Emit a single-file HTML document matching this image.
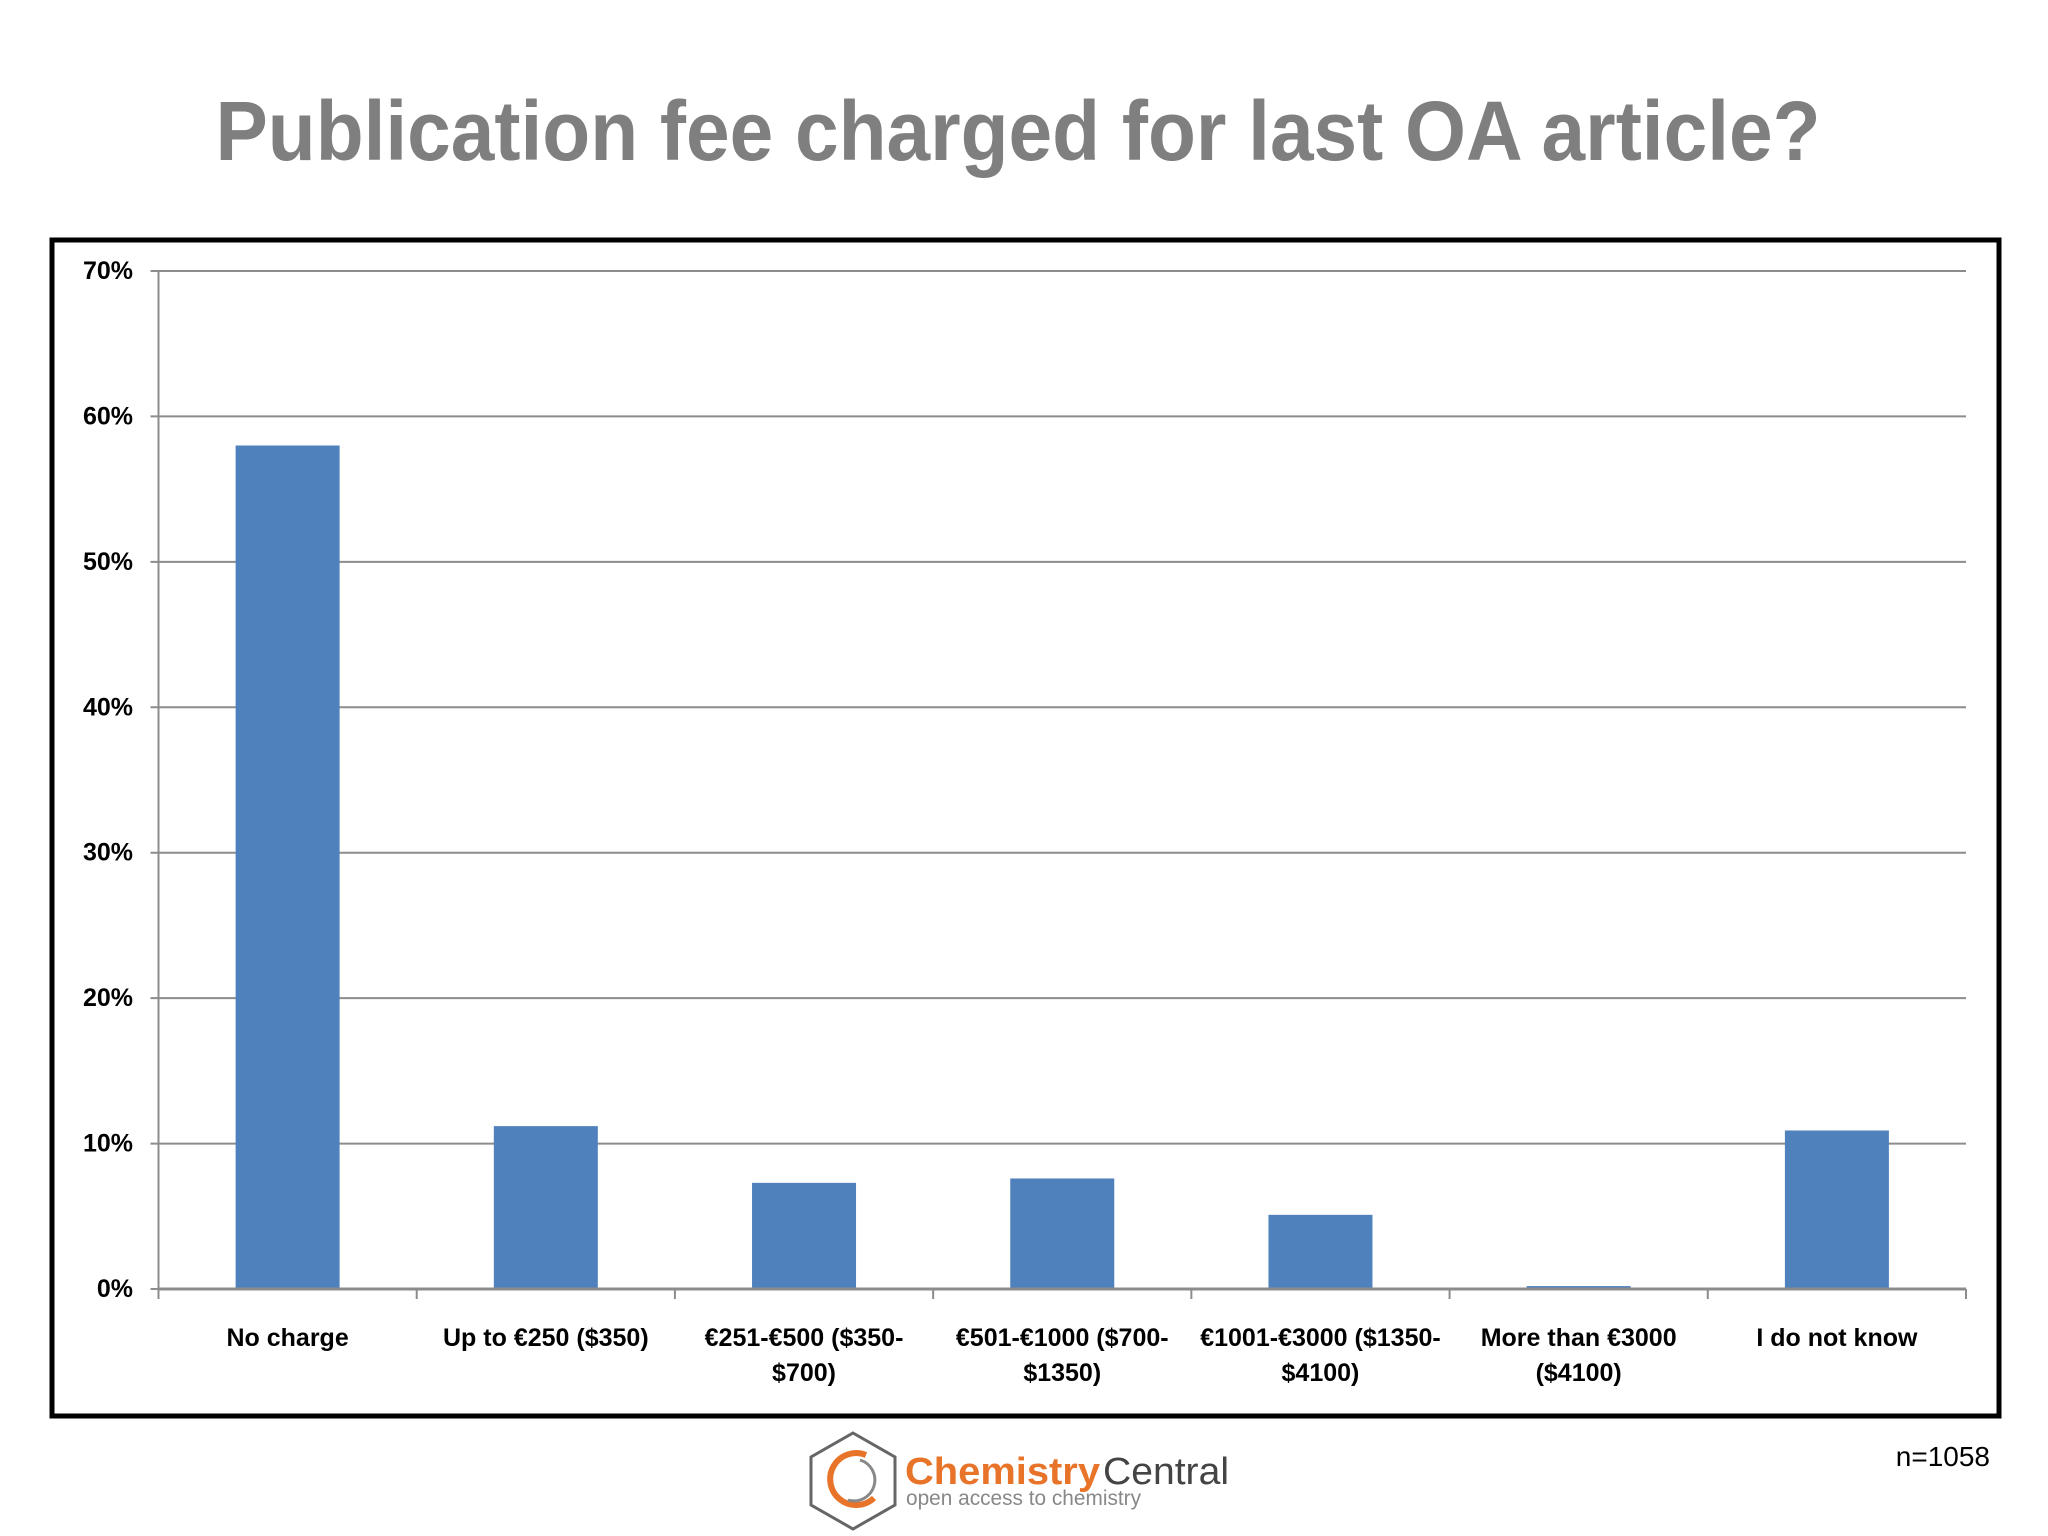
<!DOCTYPE html>
<html><head><meta charset="utf-8"><style>
html,body{margin:0;padding:0;background:#fff;width:2048px;height:1536px;overflow:hidden}
text{font-family:"Liberation Sans",sans-serif}
</style></head><body>
<svg id="chart" width="2048" height="1536" viewBox="0 0 2048 1536">
<text x="1018" y="160" text-anchor="middle" font-size="84" font-weight="bold" fill="#7f7f7f" textLength="1605" lengthAdjust="spacingAndGlyphs">Publication fee charged for last OA article?</text>
<rect x="52" y="240" width="1947" height="1176" fill="none" stroke="#000" stroke-width="5"/>
<g id="grid"></g><g id="bars"></g><g id="axes"></g>
<text x="1990" y="1466" text-anchor="end" font-size="28" fill="#000">n=1058</text>
<g>
<polygon points="853,1433 895,1457 895,1505 853,1529 811,1505 811,1457" fill="none" stroke="#666" stroke-width="3"/>
<path d="M866,1455 A26,26 0 1 0 874,1498" fill="none" stroke="#e8742a" stroke-width="6"/>
<path d="M860,1460 A20,20 0 1 1 848,1500" fill="none" stroke="#888" stroke-width="3"/>
<text x="905" y="1484" font-size="38" font-weight="bold" fill="#e8742a" textLength="195" lengthAdjust="spacingAndGlyphs">Chemistry</text>
<text x="1103" y="1484" font-size="38" fill="#444" textLength="126" lengthAdjust="spacingAndGlyphs">Central</text>
<text x="906" y="1505" font-size="21" fill="#888" textLength="235" lengthAdjust="spacingAndGlyphs">open access to chemistry</text>
</g>
</svg>
<script>
const categories=[["No charge"],["Up to €250 ($350)"],["€251-€500 ($350-","$700)"],["€501-€1000 ($700-","$1350)"],["€1001-€3000 ($1350-","$4100)"],["More than €3000","($4100)"],["I do not know"]];
const values=[58.0,11.2,7.3,7.6,5.1,0.2,10.9];
const yTicks=[0,10,20,30,40,50,60,70];
const NS="http://www.w3.org/2000/svg";
const x0=158.5,x1=1966,yTop=271,yBot=1289,yMax=70;
const y=v=>yBot-(v/yMax)*(yBot-yTop);
const bw=(x1-x0)/categories.length;
function mk(t,a,p){const e=document.createElementNS(NS,t);for(const k in a)e.setAttribute(k,a[k]);p.appendChild(e);return e;}
const grid=document.getElementById('grid'),bars=document.getElementById('bars'),axes=document.getElementById('axes');
yTicks.forEach(t=>{
 const l=mk('line',{x1:x0-8,x2:x1,y1:y(t),y2:y(t),stroke:'#8c8c8c','stroke-width':2},grid);
 
 
 const tx=mk('text',{x:133,y:y(t)+8,'text-anchor':'end','font-size':25,'font-weight':'bold',fill:'#000'},axes);
 tx.textContent=t+'%';
 
 
});
values.forEach((v,i)=>{
 const cx=x0+bw*(i+0.5);
 const r=mk('rect',{x:cx-52,y:y(v),width:104,height:yBot-y(v),fill:'#4f81bd'},bars);
 
 
 categories[i].forEach((s,j)=>{
  const t=mk('text',{x:cx,y:1346+j*35,'text-anchor':'middle','font-size':25,'font-weight':'bold',fill:'#000'},axes);
  t.textContent=s;
  
  
 });
});
mk('line',{x1:x0,x2:x0,y1:yTop,y2:yBot,stroke:'#8c8c8c','stroke-width':2},axes);
mk('line',{x1:x0,x2:x1,y1:yBot,y2:yBot,stroke:'#8c8c8c','stroke-width':3},axes);
for(let i=0;i<=categories.length;i++){const xx=x0+bw*i;mk('line',{x1:xx,x2:xx,y1:yBot,y2:yBot+10,stroke:'#8c8c8c','stroke-width':2},axes);}
</script>
</body></html>
